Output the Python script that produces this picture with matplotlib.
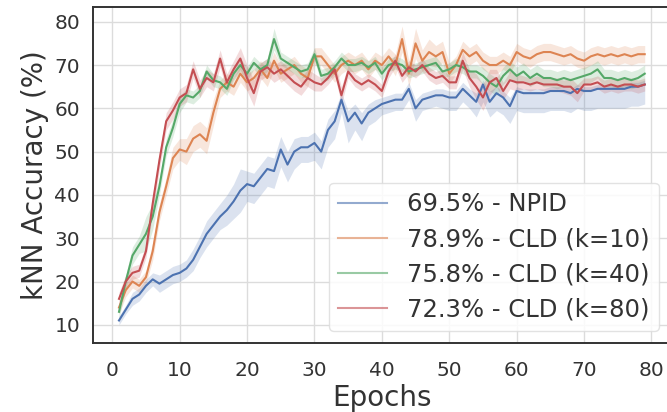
import numpy as np
import matplotlib
matplotlib.use("Agg")
import matplotlib.pyplot as plt

# epochs 1..79
epochs = np.arange(1, 80)

labels = ["69.5% - NPID", "78.9% - CLD (k=10)", "75.8% - CLD (k=40)", "72.3% - CLD (k=80)"]
colors = ["#4C72B0", "#DD8452", "#55A868", "#C44E52"]

npid = [11, 13.5, 16, 17, 19, 20.5, 19.5, 20.5, 21.5, 22,
        23, 25, 28, 31, 33, 35, 36.5, 38.5, 41, 42.5,
        42, 44, 46, 45.5, 50.5, 47, 50, 51, 51, 52,
        50, 55, 57, 62, 57, 59, 56.5, 59, 60, 61,
        61.5, 62, 62, 64.5, 60, 62, 62.5, 63, 63, 62.5,
        62.5, 64.5, 63, 61.5, 65.5, 61.5, 63.5, 62.5, 60.5, 64,
        63.5, 63.5, 63.5, 63.5, 64, 64, 64, 63.5, 64.5, 64,
        64, 64.5, 64.5, 64.5, 64.5, 64.5, 65, 65, 65.5]
npid_up = [1, 1, 1.5, 1.5, 1.5, 1.5, 2, 2, 2, 2,
           2, 2.5, 2.5, 3, 3, 3, 3.5, 4, 5, 3,
           3, 3, 3, 3, 3, 3, 3, 2.5, 2.5, 2.5,
           2.5, 2.5, 2.5, 1.5, 2.5, 2, 2.5, 2, 2, 1.5,
           1.5, 1.5, 1.5, 1.5, 2, 1.5, 1.5, 1.5, 1.5, 1.5,
           1.5, 1.5, 1.5, 2, 1, 2.5, 1.5, 1.5, 2, 1,
           1, 1, 1, 1, 1, 1, 1, 1, 1, 1,
           1, 1, 1, 1, 1, 1, 1, 1, 1]
npid_lo = [1, 1, 1.5, 1.5, 1.5, 1.5, 2, 2, 2, 2,
           2, 2.5, 2.5, 3, 3, 3, 3.5, 4, 5, 4,
           4, 4, 4, 4, 4, 4, 4, 3.5, 3.5, 4,
           4, 4, 4, 3, 5, 4, 4, 3, 3, 2.5,
           2.5, 2.5, 2.5, 2.5, 3, 2.5, 2.5, 2.5, 3, 3,
           3, 3, 3, 3.5, 4, 3.5, 4, 4, 4, 4.5,
           4.5, 4.5, 4.5, 4.5, 4.5, 4.5, 4.5, 4.5, 4.5, 4.5,
           4.5, 4.5, 4.5, 4.5, 4.5, 4.5, 4.5, 4.5, 4.5]

cld10 = [14, 18, 20, 19, 21, 27, 36, 42, 48.5, 50.5,
         50, 53, 54, 52.5, 59, 64.5, 66, 65, 68, 66,
         67, 69, 67, 71, 68, 69, 70, 68, 67, 72,
         72, 70, 68, 70, 71, 70, 71, 69, 71, 70,
         72, 70, 76, 68, 75, 71, 73, 72, 73, 68,
         70, 73.5, 72, 73, 71, 70, 70, 71, 70, 73,
         72, 71.5, 72.5, 73, 73, 72.5, 72, 72.5, 71.5, 71,
         72, 72.5, 72, 72.5, 72, 72.5, 72, 72.5, 72.5]
cld10_sd = [1.5, 1.5, 1.5, 1.5, 1.5, 2, 2, 2, 2.5, 2.5,
            3, 3, 3, 3, 3, 2, 2, 2, 2, 2,
            2, 2, 2, 2, 2, 2, 2, 2, 2, 2,
            2, 2, 2, 2, 2, 2, 2, 2, 2, 2,
            2, 2.5, 3, 3, 3.5, 2.5, 3, 2.5, 2.5, 2.5,
            2, 2, 2, 2, 2, 2, 2, 2, 2, 2,
            2, 2, 2, 2, 2, 2, 2, 2, 2, 2,
            2, 2, 2, 2, 2, 2, 2, 2, 2]

cld40 = [13, 20, 26, 28.5, 31, 35, 42, 51, 55.5, 61,
         63, 62.5, 64, 68.5, 66.5, 66, 64.5, 68, 70, 68,
         70.5, 69, 70, 76, 71.5, 70.5, 69.5, 68.5, 69, 72.5,
         67.5, 68, 69.5, 71.5, 70, 70, 70.5, 69.5, 70.5, 68,
         70, 70.5, 70, 68.5, 69, 69.5, 70, 70.5, 68.5, 69,
         70, 69.5, 68.5, 68.5, 67.5, 66, 65, 67.5, 69, 67.5,
         68.5, 67, 68, 67, 67, 66.5, 67, 66.5, 67, 67.5,
         68, 69, 67, 67, 66.5, 67, 66.5, 67, 68]
cld40_sd = [1.5, 1.5, 2, 2, 4, 3, 2, 2, 2, 2,
            1.5, 1.5, 1.5, 1.5, 1.5, 1.5, 1.5, 1.5, 1.5, 1.5,
            1.5, 1.5, 1.5, 2.5, 1.5, 1.5, 1.5, 1.5, 1.5, 1.5,
            1.5, 1.5, 1.5, 1.5, 1.5, 1.5, 1.5, 1.5, 1.5, 1.5,
            1.5, 1.5, 1.5, 1.5, 1.5, 1.5, 1.5, 1.5, 1.5, 1.5,
            1.5, 1.5, 1.5, 1.5, 2, 2, 2, 2, 2, 2,
            2, 2, 2, 2, 2, 2, 2, 2, 2, 2,
            2, 2, 2, 2, 2, 2, 2, 2, 2]

cld80 = [16, 20, 22, 22.5, 27, 38, 48, 57, 59.5, 62.5,
         63.5, 69, 64.5, 67, 66, 71.5, 66, 69, 71.5, 67,
         63.5, 68.5, 69.5, 68, 69, 67.5, 66, 65, 67, 66,
         65.5, 67, 69, 63, 68.5, 66.5, 65.5, 66.5, 65.5, 64,
         68.5, 71, 67.5, 69.5, 68.5, 70, 68, 67, 67.5, 66,
         66, 71, 67, 65, 62.5, 66, 67, 64, 66.5, 66,
         66, 65.5, 66, 65.5, 65.5, 65.5, 65, 65, 63.5, 65.5,
         65.5, 66, 65, 65.5, 65, 65.5, 65.5, 65, 65.5]
cld80_sd = [1.5, 1.5, 1.5, 1.5, 1.5, 2, 2, 2, 2, 2,
            2, 2, 2, 2, 2, 2, 2, 2, 2.5, 3,
            3, 2, 2, 2, 2, 2, 2, 2, 2, 2,
            1.5, 1.5, 1.5, 2, 1.5, 1.5, 1.5, 1.5, 1.5, 1.5,
            1.5, 1.5, 1.5, 1.5, 1.5, 1.5, 1.5, 1.5, 1.5, 1.5,
            1.5, 2, 2, 3, 3, 3, 2, 2, 2, 2,
            1.5, 1.5, 1.5, 1.5, 1.5, 1.5, 1.5, 2, 2, 1.5,
            1.5, 1.5, 1.5, 1.5, 1.5, 1.5, 1.5, 1.5, 1.5]

xticks = [0, 10, 20, 30, 40, 50, 60, 70, 80]
yticks = [10, 20, 30, 40, 50, 60, 70, 80]

plt.rcParams['font.family'] = 'DejaVu Sans'
text_col = '#333333'

fig = plt.figure(figsize=(6.67, 4.12), dpi=100)
ax = fig.add_axes([0.139, 0.1675, 0.867, 0.8155])

means = [npid, cld10, cld40, cld80]
lows = [npid_lo, cld10_sd, cld40_sd, cld80_sd]
highs = [npid_up, cld10_sd, cld40_sd, cld80_sd]
for m, lo, hi, c, lab in zip(means, lows, highs, colors, labels):
    m = np.array(m)
    ax.fill_between(epochs, m - np.array(lo), m + np.array(hi), color=c, alpha=0.2, lw=0)
    ax.plot(epochs, m, color=c, lw=1.5, label=lab)

ax.set_xlim(-2.9, 82.9)
ax.set_ylim(5.8, 83.4)
ax.set_xticks(xticks)
ax.set_yticks(yticks)
ax.grid(True, color='#dcdcdc', lw=1.0)
ax.set_axisbelow(True)
for s in ax.spines.values():
    s.set_color('#333333')
    s.set_linewidth(1.4)
ax.tick_params(length=0, labelsize=14.5, labelcolor=text_col)
ax.tick_params(axis='x', pad=13)
ax.tick_params(axis='y', pad=9)
ax.set_xlabel('Epochs', fontsize=20, color=text_col, labelpad=3)
ax.set_ylabel('kNN Accuracy (%)', fontsize=20, color=text_col, labelpad=4)

leg = ax.legend(loc='lower right', fontsize=17.5, frameon=True, fancybox=True,
                edgecolor='#dddddd', framealpha=0.85, labelspacing=0.45,
                handlelength=2.0, borderaxespad=0.5)
for t in leg.get_texts():
    t.set_color(text_col)
for l in leg.get_lines():
    l.set_alpha(0.6)

fig.savefig('out.png', dpi=100)
